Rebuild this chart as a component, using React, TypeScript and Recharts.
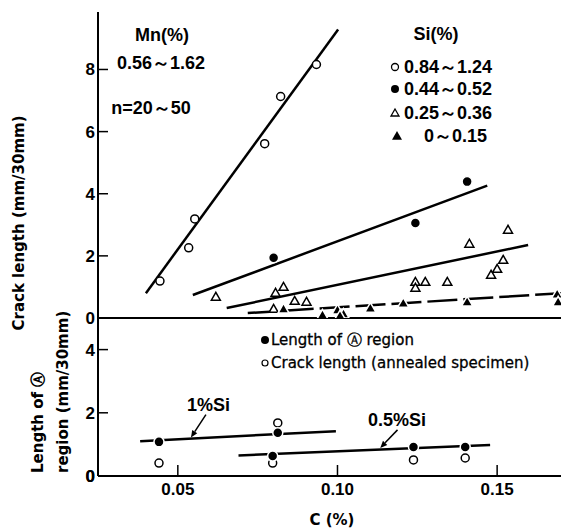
import React from 'react';
import { ComposedChart, Line, Scatter, XAxis, YAxis, ReferenceLine } from 'recharts';

// x axis: C (%)
const xDomain = [0.025, 0.17];
const xTicks = [0.05, 0.1, 0.15];
const topTicks = [0, 2, 4, 6, 8];
const bottomTicks = [0, 2, 4];

// top panel, crack length by Si (%) group
const si084 = [
  { x: 0.0444, y: 1.19 }, { x: 0.0534, y: 2.26 }, { x: 0.0553, y: 3.19 },
  { x: 0.0772, y: 5.61 }, { x: 0.0822, y: 7.13 }, { x: 0.0934, y: 8.16 },
];
const si044 = [
  { x: 0.08, y: 1.94 }, { x: 0.1244, y: 3.06 }, { x: 0.1406, y: 4.39 },
];
const si025 = [
  { x: 0.0619, y: 0.68 }, { x: 0.0806, y: 0.81 }, { x: 0.0831, y: 1.0 },
  { x: 0.0866, y: 0.55 }, { x: 0.0903, y: 0.52 }, { x: 0.08, y: 0.29 },
  { x: 0.1244, y: 1.16 }, { x: 0.1244, y: 0.97 }, { x: 0.1275, y: 1.16 },
  { x: 0.1344, y: 1.16 }, { x: 0.1413, y: 2.39 }, { x: 0.1534, y: 2.84 },
  { x: 0.1481, y: 1.39 }, { x: 0.15, y: 1.58 }, { x: 0.1519, y: 1.87 },
];
const si000 = [
  { x: 0.0831, y: 0.29 }, { x: 0.0953, y: 0.1 }, { x: 0.1, y: 0.26 },
  { x: 0.1019, y: 0.13 }, { x: 0.1008, y: 0.08 }, { x: 0.1103, y: 0.32 },
  { x: 0.1206, y: 0.48 }, { x: 0.1406, y: 0.52 }, { x: 0.1688, y: 0.77 },
  { x: 0.1691, y: 0.52 },
];

// fitted lines (end points)
const fit084 = [{ x: 0.04, y: 0.8 }, { x: 0.1002, y: 9.29 }];
const fit044 = [{ x: 0.0547, y: 0.74 }, { x: 0.1469, y: 4.26 }];
const fit025 = [{ x: 0.0653, y: 0.32 }, { x: 0.1597, y: 2.35 }];
const fit000 = [{ x: 0.0719, y: 0.16 }, { x: 0.17, y: 0.8 }];

// bottom panel
const regionA = [
  { x: 0.0441, y: 1.08 }, { x: 0.0813, y: 1.37 }, { x: 0.0797, y: 0.63 },
  { x: 0.1238, y: 0.92 }, { x: 0.14, y: 0.92 },
];
const annealed = [
  { x: 0.0441, y: 0.41 }, { x: 0.0813, y: 1.68 }, { x: 0.0797, y: 0.41 },
  { x: 0.1238, y: 0.51 }, { x: 0.14, y: 0.57 },
];
const fit1Si = [{ x: 0.0382, y: 1.1 }, { x: 0.0995, y: 1.42 }];
const fit05Si = [{ x: 0.069, y: 0.65 }, { x: 0.1478, y: 0.98 }];
const arrow1Si = [{ x: 0.0588, y: 1.94 }, { x: 0.0541, y: 1.22 }];
const arrow05Si = [{ x: 0.1188, y: 1.46 }, { x: 0.1134, y: 0.89 }];

const sans = "'Liberation Sans', Arial, sans-serif";
const tickFont = { fill: '#000', fontSize: 17, fontWeight: 'bold', fontFamily: sans };

const OpenCircle = (p: any) => <circle cx={p.cx} cy={p.cy} r={4} fill="#fff" stroke="#000" strokeWidth={1.5} />;
const FilledCircle = (p: any) => <circle cx={p.cx} cy={p.cy} r={5} fill="#000" stroke="#fff" strokeWidth={1.5} />;
const tri = (cx: number, cy: number, s: number) =>
  `${cx},${cy - s} ${cx - s},${cy + s * 0.75} ${cx + s},${cy + s * 0.75}`;
const OpenTriangle = (p: any) => <polygon points={tri(p.cx, p.cy, 4.5)} fill="#fff" stroke="#000" strokeWidth={1.5} />;
const FilledTriangle = (p: any) => <polygon points={tri(p.cx, p.cy, 5.5)} fill="#000" stroke="#fff" strokeWidth={1.5} />;

// ticks point into the plot
const XTick = (p: any) => (
  <g>
    <line x1={p.x} x2={p.x} y1={p.y} y2={p.y - 11} stroke="#000" strokeWidth={1.5} />
    <text x={p.x} y={p.y + 19} textAnchor="middle" {...tickFont}>{p.payload.value.toFixed(2)}</text>
  </g>
);
const YTick = (p: any) => (
  <g>
    <line x1={p.x} x2={p.x + 10} y1={p.y} y2={p.y} stroke="#000" strokeWidth={1.5} />
    <text x={p.x - 3} y={p.y} dy={6} textAnchor="end" {...tickFont}>{`${p.payload.value}`}</text>
  </g>
);

const Arrow = (p: any) => {
  const { x1, y1, x2, y2 } = p;
  const a = Math.atan2(y2 - y1, x2 - x1);
  const h = 7;
  const w = 3;
  const bx = x2 - h * Math.cos(a);
  const by = y2 - h * Math.sin(a);
  const pts = `${x2},${y2} ${bx + w * Math.sin(a)},${by - w * Math.cos(a)} ${bx - w * Math.sin(a)},${by + w * Math.cos(a)}`;
  return (
    <g>
      <line x1={x1} y1={y1} x2={bx} y2={by} stroke="#000" strokeWidth={1.5} />
      <polygon points={pts} fill="#000" />
    </g>
  );
};

const lineProps = { dataKey: 'y', stroke: '#000', strokeWidth: 2.5, dot: false, isAnimationActive: false, legendType: 'none' as const };
const txt = { fontFamily: sans, fontWeight: 'bold', fontSize: 18, fill: '#000' };
const lbl = { fontFamily: 'DejaVu Sans', fontWeight: 'bold', fontSize: 15, fill: '#000' };
const leg = { fontFamily: 'DejaVu Sans', fontSize: 15, fill: '#000', stroke: '#000', strokeWidth: 0.3 };

export default function App() {
  return (
    <div style={{ position: 'absolute', left: 0, top: 0, width: 561, height: 531, background: '#fff' }}>
      <div style={{ position: 'absolute', left: 0, top: 318 }}>
        <ComposedChart width={561} height={213} margin={{ top: 0, right: 0, left: 0, bottom: 0 }}>
          <XAxis dataKey="x" type="number" domain={xDomain} allowDataOverflow ticks={xTicks} interval={0} tick={XTick} tickSize={0} tickMargin={0} tickLine={false} height={55} axisLine={{ stroke: '#000', strokeWidth: 2 }} />
          <YAxis dataKey="y" type="number" domain={[0, 5]} allowDataOverflow ticks={bottomTicks} interval={0} width={98} tickSize={0} tickMargin={0} tick={YTick} tickLine={false} axisLine={{ stroke: '#000', strokeWidth: 2 }} />
          <Line data={fit1Si} {...lineProps} />
          <Line data={fit05Si} {...lineProps} />
          <ReferenceLine segment={arrow1Si} shape={Arrow} ifOverflow="visible" />
          <ReferenceLine segment={arrow05Si} shape={Arrow} ifOverflow="visible" />
          <Scatter data={annealed} dataKey="y" shape={OpenCircle} isAnimationActive={false} />
          <Scatter data={regionA} dataKey="y" shape={FilledCircle} isAnimationActive={false} />
        </ComposedChart>
      </div>
      <div style={{ position: 'absolute', left: 0, top: 0 }}>
        <ComposedChart width={561} height={330} margin={{ top: 12, right: 0, left: 0, bottom: 0 }}>
          <XAxis xAxisId="top" orientation="top" type="number" domain={xDomain} allowDataOverflow tick={false} tickLine={false} height={0} axisLine={{ stroke: '#000', strokeWidth: 2 }} />
          <XAxis dataKey="x" type="number" domain={xDomain} allowDataOverflow ticks={xTicks} tick={false} tickLine={false} height={12} axisLine={{ stroke: '#000', strokeWidth: 2 }} />
          <YAxis dataKey="y" type="number" domain={[0, 9.85]} allowDataOverflow ticks={topTicks} interval={0} width={98} tickSize={0} tickMargin={0} tick={YTick} tickLine={false} axisLine={{ stroke: '#000', strokeWidth: 2 }} />
          <Line data={fit084} {...lineProps} />
          <Line data={fit044} {...lineProps} />
          <Line data={fit025} {...lineProps} />
          <Line data={fit000} {...lineProps} strokeDasharray="30 6" />
          <Scatter data={si084} dataKey="y" shape={OpenCircle} isAnimationActive={false} />
          <Scatter data={si044} dataKey="y" shape={FilledCircle} isAnimationActive={false} />
          <Scatter data={si025} dataKey="y" shape={OpenTriangle} isAnimationActive={false} />
          <Scatter data={si000} dataKey="y" shape={FilledTriangle} isAnimationActive={false} />
        </ComposedChart>
      </div>
      <svg width={561} height={531} style={{ position: 'absolute', left: 0, top: 0, pointerEvents: 'none' }}>
        <text transform="translate(19,223) rotate(-90)" textAnchor="middle" dominantBaseline="central" {...lbl}>Crack length (mm/30mm)</text>
        <text transform="translate(38,473) rotate(-90)" textAnchor="start" dominantBaseline="central" {...lbl}>Length of Ⓐ</text>
        <text transform="translate(63,473) rotate(-90)" textAnchor="start" dominantBaseline="central" {...lbl}>region (mm/30mm)</text>
        <text x={332} y={520} textAnchor="middle" dominantBaseline="central" {...lbl}>C (%)</text>
        {/* bottom panel origin label */}
        <text x={95} y={482} textAnchor="end" {...tickFont}>0</text>

        <text x={162} y={35} textAnchor="middle" dominantBaseline="central" {...txt}>Mn(%)</text>
        <text x={161} y={63} textAnchor="middle" dominantBaseline="central" {...txt}>0.56～1.62</text>
        <text x={151} y={108} textAnchor="middle" dominantBaseline="central" {...txt}>n=20～50</text>

        <text x={436} y={34} textAnchor="middle" dominantBaseline="central" {...txt}>Si(%)</text>
        <circle cx={395} cy={67} r={3.5} fill="#fff" stroke="#000" strokeWidth={1.3} />
        <text x={404} y={67} dominantBaseline="central" {...txt}>0.84～1.24</text>
        <circle cx={395} cy={89} r={4} fill="#000" />
        <text x={404} y={89} dominantBaseline="central" {...txt}>0.44～0.52</text>
        <polygon points={tri(395, 113, 4)} fill="#fff" stroke="#000" strokeWidth={1.3} />
        <text x={404} y={113} dominantBaseline="central" {...txt}>0.25～0.36</text>
        <polygon points={tri(397, 136, 5)} fill="#000" />
        <text x={487} y={136} textAnchor="end" dominantBaseline="central" {...txt}>0～0.15</text>

        <circle cx={265} cy={340} r={4} fill="#000" />
        <text x={271} y={340} dominantBaseline="central" {...leg}>Length of Ⓐ region</text>
        <circle cx={265} cy={363} r={3} fill="#fff" stroke="#000" strokeWidth={1.2} />
        <text x={271} y={363} dominantBaseline="central" {...leg}>Crack length (annealed specimen)</text>

        <text x={187} y={405} dominantBaseline="central" {...txt}>1%Si</text>
        <text x={368} y={420} dominantBaseline="central" {...txt}>0.5%Si</text>
      </svg>
    </div>
  );
}
